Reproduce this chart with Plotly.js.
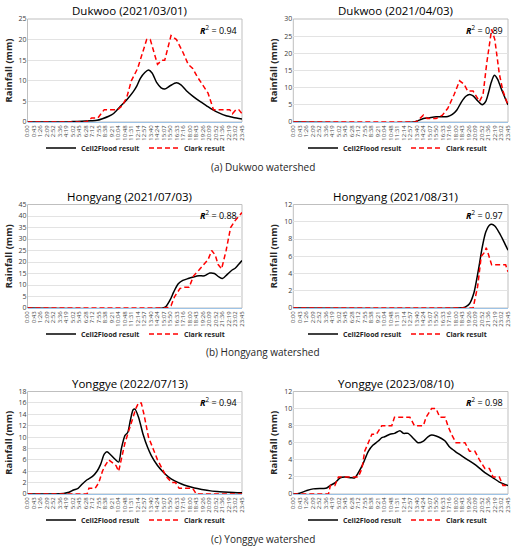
<!DOCTYPE html>
<html>
<head>
<meta charset="utf-8">
<script src="https://cdn.plot.ly/plotly-3.0.1.min.js"></script>
<style>html,body{margin:0;padding:0;background:#fff;}#chart{width:526px;height:551px;}</style>
</head>
<body>
<div id="chart"></div>
<script>
// Tick labels (time of day)
const timeLabels = ['0:00','0:43','1:26','2:09','2:52','3:36','4:19','5:02','5:45','6:28','7:12','7:55','8:38','9:21','10:04','10:48','11:31','12:14','12:57','13:40','14:24','15:07','15:50','16:33','17:16','18:00','18:43','19:26','20:09','20:52','21:36','22:19','23:02','23:45'];

const titles = ['Dukwoo (2021/03/01)','Dukwoo (2021/04/03)','Hongyang (2021/07/03)','Hongyang (2021/08/31)','Yonggye (2022/07/13)','Yonggye (2023/08/10)'];
const r2 = ['0.94','0.89','0.88','0.97','0.94','0.98'];
const captions = ['(a) Dukwoo watershed','(b) Hongyang watershed','(c) Yonggye watershed'];
const yMax = [25,30,45,12,18,12];
const yStep = [5,5,5,2,2,2];

// Panel 1: Dukwoo 2021/03/01 (time in hours)
const dk1CellT = [0,4,5,6,7,7.7,8.3,9,9.5,10.2,11,11.7,12.1,12.5,13,13.4,13.8,14.3,14.8,15.2,15.8,16.5,17,17.6,18.3,19.1,19.8,20.5,21.2,22,22.8,23.76];
const dk1Cell  = [0,0,0.1,0.2,0.3,0.4,0.8,1.4,2,3.6,5.4,7.3,8.7,10.6,12,12.6,11.9,9.6,8.3,8.0,8.8,9.5,9,7.6,6.3,5,4,3,2.2,1.5,1.1,0.7];
const dk1ClarkT = [0,6.5,7.1,7.8,8.5,9.5,10,10.5,11,11.5,12.2,13.2,13.6,14.4,14.9,15.2,15.9,16.5,17.2,17.8,18.3,18.8,19.4,20,20.6,21,22.4,22.7,23.1,23.4,23.76];
const dk1Clark  = [0,0,1,1,3,3,3,4,6,10,13,20,20,14,15,15,21,20,17,14,13,11,9,7,3,3,3,2,3,3,2];

// Panel 2: Dukwoo 2021/04/03
const dk2CellT = [0,13.3,13.8,14.4,15,15.8,16.5,17.1,17.6,18.1,18.6,19.1,19.5,19.9,20.4,20.9,21.3,21.6,21.9,22.25,22.6,23,23.4,23.76];
const dk2Cell  = [0,0,0.4,1,1.2,1.5,1.5,1.6,2.2,3.5,5.8,7.5,8,7.6,6.2,5,6,8.5,11.5,13.6,12.5,9.8,7.2,5];
const dk2ClarkT = [0,13.6,14.4,14.8,15.8,16.5,17.1,17.8,18.4,18.9,19.3,19.9,20.6,21,21.4,21.95,22.3,22.8,23.2,23.76];
const dk2Clark  = [0,0,2,1,1,2,4,8,12,11,9,9,6,8,17,27,24,14,9,5];

// Panel 3: Hongyang 2021/07/03
const hy1CellT = [0,15,15.3,15.8,16.2,16.7,17.2,17.8,18.4,19,19.6,20.2,20.7,21.2,21.6,22.1,22.6,23,23.4,23.76];
const hy1Cell  = [0,0,0.5,3.5,7,10.5,12,12.8,13.5,14,14,15.2,15,13.5,12.8,14.5,16.3,17.3,19,20.6];
const hy1ClarkT = [0,15.4,15.9,16.3,16.9,17.4,17.9,18.4,19,19.6,20,20.4,20.8,21.1,21.5,22,22.5,23,23.4,23.76];
const hy1Clark  = [0,0,1,5,8.5,9,9,14,16.5,19,21,25,23,19,17,25,35,38,40,41.5];

// Panel 4: Hongyang 2021/08/31
const hy2CellT = [0,18.4,19,19.5,20,20.5,20.9,21.3,21.7,21.95,22.3,22.8,23.3,23.76];
const hy2Cell  = [0,0,0.1,0.5,1.8,4.5,7,8.8,9.6,9.7,9.5,8.7,7.7,6.7];
const hy2ClarkT = [0,19.9,20.4,20.8,21.2,21.35,21.6,21.95,23.2,23.5,23.76];
const hy2Clark  = [0,0,2.5,6,6.5,7,6.2,5,5,5,4.2];

// Panel 5: Yonggye 2022/07/13
const yg1CellT = [0,3,4,4.6,5.1,5.6,6.1,6.6,7.2,7.7,8.1,8.5,8.8,9.2,9.7,10.1,10.4,10.8,11.1,11.4,11.7,11.9,12.3,12.8,13.3,13.7,14.4,15,15.6,16.3,17,17.7,18.5,19.3,20.3,21.3,22.3,23.76];
const yg1Cell  = [0,0,0.1,0.3,0.7,1,1.8,2.5,3.1,4,5.2,7,7.4,6.9,6.1,5.6,8,10.3,10.8,13,14.8,14.9,13.5,10.5,8.2,6.8,5,3.9,3,2.3,1.8,1.4,1.05,0.8,0.55,0.4,0.3,0.2];
const yg1ClarkT = [0,6.6,6.8,7.5,7.9,8.3,8.6,9,9.4,9.8,10.1,10.4,10.8,11.2,11.6,12,12.3,12.6,12.9,13.4,13.9,14.4,14.9,15.4,16,16.4,16.8,17.7,18.3,18.7,23.76];
const yg1Clark  = [0,0,1,1,2,4,5,6,5.5,5,4,6,9,11,13,15,16,16,14,10,8,6,4.5,3,2,2,1,1,1,0,0];

// Panel 6: Yonggye 2023/08/10
const yg2CellT = [0,0.7,1.5,2.2,3.3,3.7,4.1,4.6,5.2,5.7,6.4,6.8,7.2,7.7,8.3,8.8,9.4,9.8,10.1,10.7,11.2,11.8,12.2,12.7,13.3,13.8,14.4,14.9,15.3,15.8,16.4,16.8,17.3,17.9,18.6,19.3,20.3,21.2,22.1,22.8,23.76];
const yg2Cell  = [0,0.1,0.4,0.6,0.65,0.7,1,1.3,1.9,2,1.9,1.9,2.5,3.5,5,5.7,6.2,6.6,6.7,7,7.1,7.4,7.1,7.1,6.5,6,6.2,6.7,6.9,6.8,6.5,6.2,5.5,5,4.5,4,3.3,2.5,1.9,1.4,1];
const yg2ClarkT = [0,0.7,3.9,4.1,4.6,5,6.6,7.2,7.6,7.9,8.3,8.7,9.2,9.8,10.9,11.2,12.9,13.4,14.4,14.7,15.3,15.8,16.2,16.8,17.1,17.5,18,19,19.5,20.1,20.6,21.2,21.7,22.1,22.8,23.2,23.76];
const yg2Clark  = [0,0,0,1,1,2,2,2,3,5,6,7,7,8,8,9,9,8,8,9,10,10,9,9,8,7,6,6,5,5,4,3,3,2,2,1,1];

const cellT = [dk1CellT,dk2CellT,hy1CellT,hy2CellT,yg1CellT,yg2CellT];
const cellV = [dk1Cell,dk2Cell,hy1Cell,hy2Cell,yg1Cell,yg2Cell];
const clarkT = [dk1ClarkT,dk2ClarkT,hy1ClarkT,hy2ClarkT,yg1ClarkT,yg2ClarkT];
const clarkV = [dk1Clark,dk2Clark,hy1Clark,hy2Clark,yg1Clark,yg2Clark];

const W = 526, H = 551;
const colX = [[27.5,242],[293.3,508]];
const rowY = [[19,122],[204.5,308],[391.5,494]];
const legendLeft = [41, 303];
const legendY = [148,334,520];
const captionY = [167,352,539];
const FONT = '"Open Sans", "Noto Sans", sans-serif';

const tickvals = timeLabels.map((_, i) => i * 0.72);
const data = [];
const layout = {
  width: W, height: H,
  margin: {l:0, r:0, t:0, b:0},
  paper_bgcolor: '#fff', plot_bgcolor: '#fff',
  font: {family: FONT, color: '#404040'},
  annotations: [], shapes: []
};

for (let p = 0; p < 6; p++) {
  const col = p % 2, row = Math.floor(p / 2);
  const k = p === 0 ? '' : String(p + 1);
  const xa = 'x' + k, ya = 'y' + k;
  const lg = 'legend' + k;
  data.push({
    x: cellT[p], y: cellV[p], xaxis: xa, yaxis: ya, type: 'scatter', mode: 'lines',
    name: 'Cell2Flood result', legend: lg,
    line: {color: '#000000', width: 1.5, shape: 'spline', smoothing: 0.7}
  });
  data.push({
    x: clarkT[p], y: clarkV[p], xaxis: xa, yaxis: ya, type: 'scatter', mode: 'lines',
    name: 'Clark result', legend: lg,
    line: {color: '#ff0000', width: 1.5, dash: '5px,3px'}
  });
  const xd = [colX[col][0] / W, colX[col][1] / W];
  const yd = [(H - rowY[row][1]) / H, (H - rowY[row][0]) / H];
  layout['xaxis' + k] = {
    domain: xd, anchor: ya, range: [0, 23.76],
    tickmode: 'array', tickvals: tickvals, ticktext: timeLabels, tickangle: -90,
    tickfont: {size: 6, color: '#404040'}, ticks: '', ticklen: 0,
    showgrid: false, zeroline: false, showline: true, linecolor: '#9dc3e6', linewidth: 1,
    fixedrange: true
  };
  layout['yaxis' + k] = {
    domain: yd, anchor: xa, range: [0, yMax[p]], dtick: yStep[p], tick0: 0,
    tickfont: {size: 7, color: '#404040'}, ticks: '',
    showgrid: true, gridcolor: '#e3e3e3', gridwidth: 1, zeroline: false, showline: false,
    title: {text: 'Rainfall (mm)', font: {size: 9.5, color: '#262626', weight: 'bold'}, standoff: 4},
    fixedrange: true
  };
  layout[lg] = {
    orientation: 'h', x: legendLeft[col] / W, xanchor: 'left',
    y: (H - legendY[row]) / H, yanchor: 'middle',
    font: {size: 7, color: '#262626', weight: 'bold'},
    bgcolor: 'rgba(0,0,0,0)', itemwidth: 30, entrywidth: 58, tracegroupgap: 0
  };
  layout.shapes.push({
    type: 'rect', xref: xa + ' domain', yref: ya + ' domain', x0: 0, x1: 1, y0: 0, y1: 1,
    line: {color: '#bfbfbf', width: 1}, layer: 'below'
  });
  layout.annotations.push({
    text: titles[p], xref: 'paper', yref: 'paper',
    x: ((colX[col][0] + colX[col][1]) / 2 - 5) / W, y: (H - (rowY[row][0] - 8)) / H,
    xanchor: 'center', yanchor: 'middle', showarrow: false,
    font: {size: 11.5, color: '#000'}
  });
  layout.annotations.push({
    text: '<b><i>R</i></b><sup>2</sup> = ' + r2[p], xref: xa + ' domain', yref: ya + ' domain',
    x: 0.985, y: 0.985, xanchor: 'right', yanchor: 'top', showarrow: false,
    font: {size: 9, color: '#000'}
  });
}
for (let r = 0; r < 3; r++) {
  layout.annotations.push({
    text: captions[r], xref: 'paper', yref: 'paper', x: 263 / W, y: (H - captionY[r]) / H,
    xanchor: 'center', yanchor: 'middle', showarrow: false,
    font: {size: 10, color: '#262626'}
  });
}
Plotly.newPlot('chart', data, layout, {displayModeBar: false, staticPlot: true});
</script>
</body>
</html>
